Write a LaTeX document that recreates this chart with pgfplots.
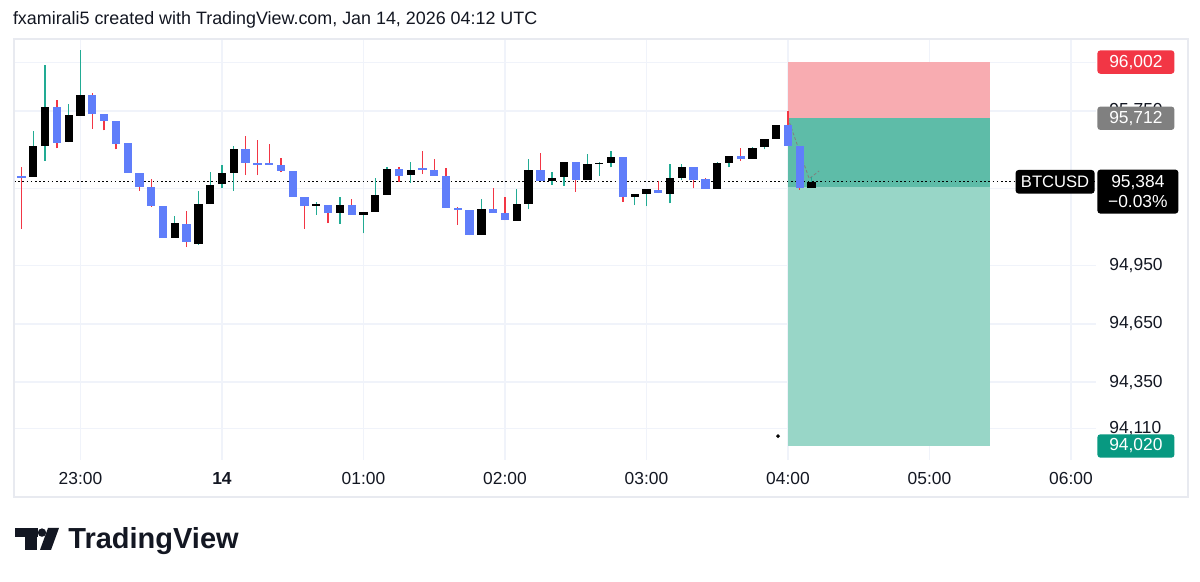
\documentclass[border=0pt]{standalone}
\usepackage{fontspec}
\setmainfont{Liberation Sans}
\usepackage{pgfplots}
\usepackage{pgfplotstable}
\pgfplotsset{compat=1.18}

\definecolor{upwick}{RGB}{34,171,148}
\definecolor{dnwick}{RGB}{242,54,69}
\definecolor{dnbody}{RGB}{96,126,250}
\definecolor{upbody}{RGB}{0,0,0}
\definecolor{gridc}{RGB}{240,243,250}
\definecolor{framec}{RGB}{232,234,240}
\definecolor{slfill}{RGB}{248,172,177}
\definecolor{tpdark}{RGB}{94,188,168}
\definecolor{tplight}{RGB}{152,214,199}
\definecolor{labred}{RGB}{242,54,69}
\definecolor{labgray}{RGB}{128,128,128}
\definecolor{labgreen}{RGB}{8,153,129}
\definecolor{txt}{RGB}{19,23,34}

% k = 5-minute candle index (18 = 00:00), o h l c
\pgfplotstableread{
k o h l c
2 95410 95648 95410 95569
3 95569 95987 95492 95770
5 95588 95787 95588 95727
6 95727 96065 95727 95831
14 95096 95209 95096 95171
16 95061 95338 95058 95271
17 95269 95435 95269 95368
18 95371 95471 95350 95430
19 95431 95570 95337 95552
26 95263 95281 95213 95268
28 95225 95304 95168 95264
30 95213 95230 95118 95230
31 95230 95402 95230 95316
32 95316 95459 95316 95450
34 95419 95486 95379 95445
40 95109 95297 95109 95242
43 95183 95347 95183 95271
44 95271 95502 95242 95445
46 95390 95436 95368 95405
47 95407 95488 95364 95488
49 95393 95528 95393 95479
50 95478 95485 95416 95485
51 95483 95543 95459 95511
53 95309 95321 95264 95321
54 95320 95345 95259 95345
56 95321 95474 95273 95407
57 95407 95474 95393 95462
60 95347 95488 95347 95480
61 95480 95517 95459 95517
63 95502 95562 95502 95562
64 95562 95604 95552 95604
65 95604 95677 95604 95677
68 95351 95410 95351 95384
}\uptable

\pgfplotstableread{
k o h l c
1 95414 95462 95140 95408
4 95770 95806 95557 95586
7 95831 95841 95657 95733
8 95733 95733 95650 95700
9 95700 95700 95552 95583
10 95583 95583 95430 95430
11 95430 95430 95337 95359
12 95359 95397 95256 95261
13 95261 95261 95096 95096
15 95168 95233 95047 95075
20 95553 95622 95419 95480
21 95481 95600 95419 95476
22 95481 95579 95476 95476
23 95471 95505 95433 95441
24 95438 95438 95307 95307
25 95307 95307 95142 95259
27 95264 95264 95170 95225
29 95264 95295 95213 95213
33 95450 95462 95385 95416
35 95454 95542 95423 95443
36 95445 95502 95414 95414
37 95414 95454 95250 95250
38 95249 95256 95161 95237
39 95237 95237 95109 95109
41 95244 95351 95223 95223
42 95221 95307 95185 95185
45 95445 95531 95390 95390
48 95488 95488 95333 95393
52 95511 95511 95281 95304
55 95345 95390 95325 95325
58 95462 95462 95350 95397
59 95397 95404 95349 95349
62 95517 95557 95492 95502
66 95677 95750 95570 95570
67 95570 95570 95342 95351
}\dntable

\begin{document}
\begin{tikzpicture}
\fill[white] (0,0) rectangle (600pt,291pt);
\path[use as bounding box] (0,0) rectangle (600pt,291pt);

\begin{axis}[
  at={(7pt,61pt)}, anchor=south west,
  width=541pt, height=210.5pt, scale only axis,
  xmin=-1.470, xmax=6.177, ymin=93947.7, ymax=96121.3,
  axis line style={draw=none},
  clip=false,
  xtick={-1,0,1,2,3,4,5,6},
  xticklabels={23:00,\textbf{14},01:00,02:00,03:00,04:00,05:00,06:00},
  ytick={94110,94350,94650,94950,95750},
  extra y ticks={95350,96000}, extra y tick labels={},
  extra y tick style={grid=major},
  scaled y ticks=false,
  yticklabel pos=right,
  major tick length=0pt,
  xmajorgrids, ymajorgrids,
  grid style={gridc, line width=0.6pt},
  yticklabel style={anchor=west, inner sep=0pt, xshift=6.5pt, font=\fontsize{8.7}{10}\selectfont, text=txt},
  xticklabel style={anchor=base, inner sep=0pt, yshift=-12.5pt, font=\fontsize{8.7}{10}\selectfont, text=txt},
  /pgf/number format/1000 sep={,},
  /pgf/number format/assume math mode=true,
]
% position tool areas
\addplot [fill=slfill, draw=none, forget plot] coordinates {(4,95712) (5.425,95712) (5.425,96002) (4,96002)};
\addplot [fill=tpdark, draw=none, forget plot] coordinates {(4,95355) (5.425,95355) (5.425,95712) (4,95712)};
\addplot [fill=tplight, draw=none, forget plot] coordinates {(4,94020) (5.425,94020) (5.425,95355) (4,95355)};
% last price dotted line
\addplot [black, line width=0.6pt, dash pattern=on 0.8pt off 1.3pt, forget plot] coordinates {(-1.47,95384) (6.177,95384)};
% connector
\addplot [gray, line width=0.4pt, dash pattern=on 1.5pt off 1pt, forget plot] coordinates {(4.0,95712) (4.15,95400) (4.22,95440)};
% small dot
\addplot [only marks, mark=*, mark size=0.7pt, black, forget plot] coordinates {(3.93,94071)};

% wicks
\addplot [draw=none, mark=none, forget plot, error bars/.cd, y dir=plus, y explicit, error mark=none,
  error bar style={draw=upwick, line width=0.65pt}]
  table [x expr=(\thisrow{k}-18)/12, y=l, y error expr=\thisrow{h}-\thisrow{l}] {\uptable};
\addplot [draw=none, mark=none, forget plot, error bars/.cd, y dir=plus, y explicit, error mark=none,
  error bar style={draw=dnwick, line width=0.65pt}]
  table [x expr=(\thisrow{k}-18)/12, y=l, y error expr=\thisrow{h}-\thisrow{l}] {\dntable};
% bodies
\addplot [draw=none, mark=none, forget plot, error bars/.cd, y dir=both, y explicit, error mark=none,
  error bar style={draw=upbody, line width=4.15pt}]
  table [x expr=(\thisrow{k}-18)/12, y expr=(\thisrow{o}+\thisrow{c})/2, y error expr=abs(\thisrow{c}-\thisrow{o})/2] {\uptable};
\addplot [draw=none, mark=none, forget plot, error bars/.cd, y dir=both, y explicit, error mark=none,
  error bar style={draw=dnbody, line width=4.15pt}]
  table [x expr=(\thisrow{k}-18)/12, y expr=(\thisrow{o}+\thisrow{c})/2, y error expr=abs(\thisrow{c}-\thisrow{o})/2] {\dntable};

\coordinate (R96002) at (axis cs:6.177,96002);
\coordinate (R95712) at (axis cs:6.177,95712);
\coordinate (R95384) at (axis cs:6.177,95384);
\coordinate (R94020) at (axis cs:6.177,94020);
\end{axis}

\draw[framec, line width=0.6pt] (7pt,42.5pt) rectangle (594pt,271.5pt);

\tikzset{pl/.style={anchor=west, fill=#1, text=white, rounded corners=1.5pt, minimum width=38.5pt, minimum height=11.7pt, inner sep=0pt, font=\fontsize{8.7}{10}\selectfont}}
\node[pl=labred, xshift=0.5pt] at (R96002) {96,002};
\node[pl=labgray, xshift=0.5pt] at (R95712) {95,712};
\node[pl=labgreen, xshift=0.5pt] at (R94020) {94,020};
\node[anchor=east, fill=black, text=white, rounded corners=1.5pt, minimum width=39.5pt, minimum height=11.8pt, inner sep=0pt, xshift=-0.5pt, font=\fontsize{8.3}{10}\selectfont] at (R95384) {BTCUSD};
\node[anchor=north west, fill=black, text=white, rounded corners=1.5pt, minimum width=40.5pt, minimum height=22pt, inner sep=0pt, align=center, xshift=0.5pt, yshift=6.3pt, font=\fontsize{8.7}{10}\selectfont] at (R95384) {95,384\\−0.03\%};

% title
\node[anchor=base west, inner sep=0pt, font=\fontsize{8.95}{10}\selectfont, text=txt] at (6.3pt,278.5pt) {fxamirali5 created with TradingView.com, Jan 14, 2026 04:12 UTC};

% logo
\fill[txt] (7.5pt,27pt) rectangle (19pt,22.5pt);
\fill[txt] (12.5pt,27pt) rectangle (18.5pt,16pt);
\fill[txt] (21pt,24.7pt) circle (2.1pt);
\fill[txt] (24pt,27pt) -- (29.5pt,27pt) -- (25.5pt,16pt) -- (20pt,16pt) -- cycle;
\node[anchor=base west, inner sep=0pt, font=\fontsize{14.5}{16}\selectfont\bfseries, text=txt] at (34pt,16.5pt) {TradingView};
\end{tikzpicture}
\end{document}
